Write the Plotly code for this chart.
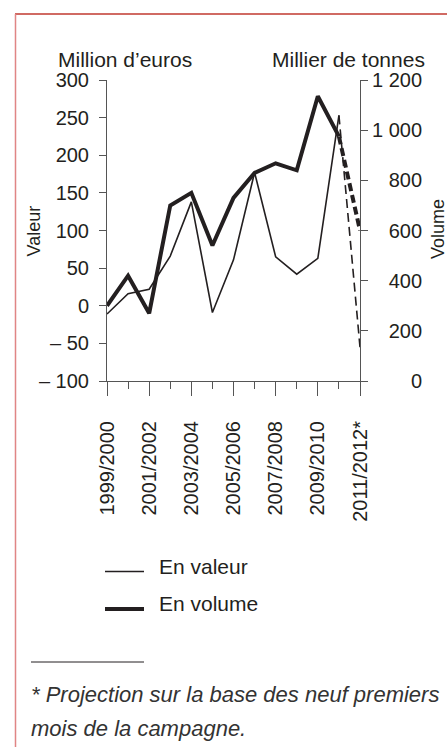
import plotly.graph_objects as go

# ---------------- data ----------------
seasons = ["1999/2000", "2000/2001", "2001/2002", "2002/2003", "2003/2004",
           "2004/2005", "2005/2006", "2006/2007", "2007/2008", "2008/2009",
           "2009/2010", "2010/2011", "2011/2012*"]
valeur_meur = [-11, 16, 22, 66, 138, -9, 61, 177, 65, 42, 63, 253, -55]
volume_kt = [300, 420, 270, 700, 750, 540, 730, 830, 868, 840, 1135, 975, 600]

y_left_vals = [-100, -50, 0, 50, 100, 150, 200, 250, 300]
y_left_text = ["–\u00a0100", "–\u00a050", "0", "50", "100", "150", "200", "250", "300"]
y_right_vals = [0, 200, 400, 600, 800, 1000, 1200]
y_right_text = ["\u2007\u2007\u2007\u00a00", "\u2007\u00a0200", "\u2007\u00a0400",
                "\u2007\u00a0600", "\u2007\u00a0800", "1\u00a0000", "1\u00a0200"]

# ---------------- layout geometry ----------------
W, H = 447, 747
ML, MR, MT, MB = 107, 87, 80, 366
PW = W - ML - MR
PH = H - MT - MB
FONT = "Liberation Sans, Arial, sans-serif"
INK = "#231f20"


def px(x):
    return (x - ML) / PW


def py(y):
    return (H - MB - y) / PH


idx = list(range(len(seasons)))
n = len(seasons)

fig = go.Figure()
# value (thin) - solid part then dashed projection
fig.add_trace(go.Scatter(x=idx[: n - 1], y=valeur_meur[: n - 1], mode="lines",
                         line=dict(color=INK, width=1.6), showlegend=False, yaxis="y"))
fig.add_trace(go.Scatter(x=idx[n - 2:], y=valeur_meur[n - 2:], mode="lines",
                         line=dict(color=INK, width=1.6, dash="9px,5px"),
                         showlegend=False, yaxis="y"))
# volume (thick)
fig.add_trace(go.Scatter(x=idx[: n - 1], y=volume_kt[: n - 1], mode="lines",
                         line=dict(color=INK, width=4), showlegend=False, yaxis="y2"))
fig.add_trace(go.Scatter(x=idx[n - 2:], y=volume_kt[n - 2:], mode="lines",
                         line=dict(color=INK, width=4, dash="8px,4px"),
                         showlegend=False, yaxis="y2"))

axis_color = "#555555"
fig.update_layout(
    width=W, height=H,
    margin=dict(l=ML, r=MR, t=MT, b=MB, autoexpand=False),
    paper_bgcolor="white", plot_bgcolor="white",
    font=dict(family=FONT, size=20, color=INK),
    xaxis=dict(range=[0, n - 1], tickmode="array", tickvals=idx[::2],
               ticktext=seasons[::2], tickangle=-90, ticks="outside", ticklen=14,
               tickwidth=1, tickcolor=axis_color, showline=True, linecolor=axis_color,
               linewidth=1, showgrid=False, zeroline=False,
               tickfont=dict(size=20, color=INK), ticklabelstandoff=17,
               minor=dict(tickmode="array", tickvals=idx, ticks="outside", ticklen=7,
                          tickcolor=axis_color, showgrid=False)),
    yaxis=dict(range=[-100, 300], tickmode="array", tickvals=y_left_vals,
               ticktext=y_left_text, ticks="outside", ticklen=7, tickcolor=axis_color,
               showline=True, linecolor=axis_color, linewidth=1, showgrid=False,
               zeroline=False, tickfont=dict(size=20, color=INK), ticklabelstandoff=6),
    yaxis2=dict(range=[0, 1200], tickmode="array", tickvals=y_right_vals,
                ticktext=y_right_text, overlaying="y", side="right", ticks="outside",
                ticklen=7, tickcolor=axis_color, showline=True, linecolor=axis_color,
                linewidth=1, showgrid=False, zeroline=False,
                tickfont=dict(size=20, color=INK)),
)

annotations = [
    dict(text="Million d’euros", x=px(56), y=py(59), xanchor="left", yanchor="middle",
         font=dict(size=21)),
    dict(text="Millier de tonnes", x=px(427), y=py(59), xanchor="right", yanchor="middle",
         font=dict(size=21)),
    dict(text="Valeur", x=px(33.5), y=py(231), textangle=-90, xanchor="center",
         yanchor="middle", font=dict(size=18)),
    dict(text="Volume", x=px(438), y=py(229), textangle=-90, xanchor="center",
         yanchor="middle", font=dict(size=18)),
    dict(text="En valeur", x=px(157), y=py(566), xanchor="left", yanchor="middle",
         font=dict(size=21)),
    dict(text="En volume", x=px(157), y=py(603), xanchor="left", yanchor="middle",
         font=dict(size=21)),
    dict(text="<i>* Projection sur la base des neuf premiers</i>", x=px(29), y=py(694),
         xanchor="left", yanchor="middle", font=dict(size=22, color="#333333")),
    dict(text="<i>mois de la campagne.</i>", x=px(29), y=py(728),
         xanchor="left", yanchor="middle", font=dict(size=22, color="#333333")),
]
for a in annotations:
    a.update(xref="paper", yref="paper", showarrow=False)
fig.update_layout(annotations=annotations)

shapes = [
    # legend samples
    dict(type="line", x0=px(105), x1=px(144), y0=py(571.5), y1=py(571.5),
         line=dict(color=INK, width=1.6)),
    dict(type="line", x0=px(105), x1=px(144), y0=py(609), y1=py(609),
         line=dict(color=INK, width=4)),
    # footnote separator
    dict(type="line", x0=px(31), x1=px(144), y0=py(662), y1=py(662),
         line=dict(color=INK, width=1)),
    # frame
    dict(type="line", x0=px(15), x1=px(460), y0=py(14), y1=py(14),
         line=dict(color="#c0392f", width=1.5)),
    dict(type="line", x0=px(15.5), x1=px(15.5), y0=py(14), y1=py(760),
         line=dict(color="#e08585", width=1.5)),
]
for s in shapes:
    s.update(xref="paper", yref="paper")
fig.update_layout(shapes=shapes)

fig.write_html("out.html", config={"displayModeBar": False},
               post_script="document.body.style.margin='0';")
